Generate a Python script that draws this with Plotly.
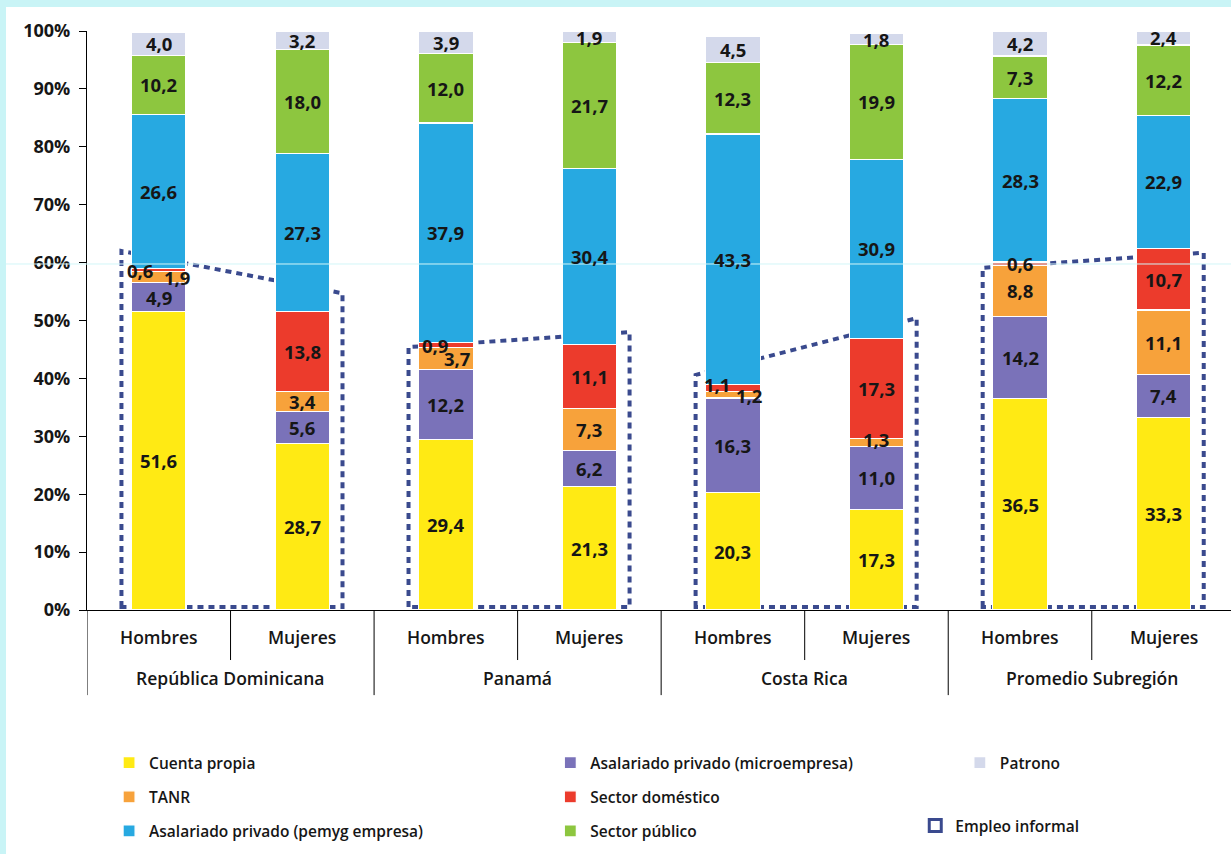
import plotly.graph_objects as go

# ---------------- data ----------------
countries = ["República Dominicana", "Panamá", "Costa Rica", "Promedio Subregión"]
sexes = ["Hombres", "Mujeres"]

series_names = ["Cuenta propia", "Asalariado privado (microempresa)", "TANR", "Sector doméstico",
                "Asalariado privado (pemyg empresa)", "Sector público", "Patrono"]

# bar order: RD-H, RD-M, PA-H, PA-M, CR-H, CR-M, PS-H, PS-M
cuenta_propia = [51.6, 28.7, 29.4, 21.3, 20.3, 17.3, 36.5, 33.3]
asal_micro = [4.9, 5.6, 12.2, 6.2, 16.3, 11.0, 14.2, 7.4]
tanr = [1.9, 3.4, 3.7, 7.3, 1.2, 1.3, 8.8, 11.1]
sector_domestico = [0.6, 13.8, 0.9, 11.1, 1.1, 17.3, 0.6, 10.7]
asal_pemyg = [26.6, 27.3, 37.9, 30.4, 43.3, 30.9, 28.3, 22.9]
sector_publico = [10.2, 18.0, 12.0, 21.7, 12.3, 19.9, 7.3, 12.2]
patrono = [4.0, 3.2, 3.9, 1.9, 4.5, 1.8, 4.2, 2.4]

# hand-drawn "Empleo informal" bracket heights (%), Hombres side and Mujeres side, per country
informal_top_h = [62.0, 45.4, 40.6, 59.1]
informal_top_m = [54.7, 48.0, 50.4, 61.7]

y_tick_vals = [0, 10, 20, 30, 40, 50, 60, 70, 80, 90, 100]
y_tick_text = ["0%", "10%", "20%", "30%", "40%", "50%", "60%", "70%", "80%", "90%", "100%"]

# ---------------- style ----------------
FONT = "Open Sans, Liberation Sans, Arial, sans-serif"
TXT = "#161616"
colors = ["#FFEA14", "#7A72B9", "#F7A23B", "#EC3B2C", "#27A9E1", "#8DC63F", "#D4D9EB"]
legend_of = ["legend", "legend2", "legend", "legend2", "legend", "legend2", "legend3"]
BOX_COLOR = "#3A4A8E"
CYAN = "#C9F4F6"

series_values = [cuenta_propia, asal_micro, tanr, sector_domestico, asal_pemyg, sector_publico, patrono]
n_bars = len(cuenta_propia)
x_pos = list(range(n_bars))

fig = go.Figure()
for name, vals, col, lg in zip(series_names, series_values, colors, legend_of):
    fig.add_trace(go.Bar(
        x=x_pos, y=vals, name=name, legend=lg, legendgroup=name,
        marker=dict(color=col, line=dict(color="white", width=1.2)),
        width=0.38, hoverinfo="skip",
    ))

# segment labels
label_shift = {
    (0, 3): (-19, 0), (0, 2): (18, 0),
    (2, 3): (-11, 0), (2, 2): (11, 0),
    (4, 3): (-16, 3), (4, 2): (16, -1),
    (5, 2): (0, 3),
}
annotations = []
for b in range(n_bars):
    base = 0.0
    for s, vals in enumerate(series_values):
        v = vals[b]
        xs, ys = label_shift.get((b, s), (0, 0))
        annotations.append(dict(
            x=x_pos[b], y=base + v / 2, xref="x", yref="y",
            text=f"{v:.1f}".replace(".", ","), showarrow=False,
            xshift=xs, yshift=ys,
            font=dict(family=FONT, size=18.5, color=TXT, weight="bold"),
        ))
        base += v

# category labels
for b in range(n_bars):
    annotations.append(dict(
        x=x_pos[b], y=-0.0466, xref="x", yref="paper", text=sexes[b % 2],
        showarrow=False, yanchor="middle",
        font=dict(family=FONT, size=17.5, color=TXT, weight=600),
    ))
for c, cname in enumerate(countries):
    annotations.append(dict(
        x=2 * c + 0.5, y=-0.1174, xref="x", yref="paper", text=cname,
        showarrow=False, yanchor="middle",
        font=dict(family=FONT, size=17.5, color=TXT, weight=600),
    ))

shapes = []
# background strips of the source image
shapes.append(dict(type="rect", xref="paper", yref="paper", x0=-0.08, x1=1.01, y0=1.0415, y1=1.07,
                   fillcolor=CYAN, line=dict(width=0), layer="above"))
shapes.append(dict(type="rect", xref="paper", yref="paper", x0=-0.08, x1=-0.0708, y0=-0.43, y1=1.07,
                   fillcolor=CYAN, line=dict(width=0), layer="above"))
shapes.append(dict(type="line", xref="paper", yref="paper", x0=-0.0708, x1=1.01, y0=0.5976, y1=0.5976,
                   line=dict(color="#D2F6F8", width=1), layer="above"))

# informal employment brackets
box_line = dict(color=BOX_COLOR, width=4, dash="6px,5px")
for c in range(len(countries)):
    xl = x_pos[2 * c] - 0.26
    xr = x_pos[2 * c + 1] + 0.28
    yb = 0.5
    path = f"M{xl},{yb} L{xl},{informal_top_h[c]} L{xr},{informal_top_m[c]} L{xr},{yb} Z"
    shapes.append(dict(
        type="path", path=path, xref="x", yref="y", layer="below",
        line=box_line, fillcolor="rgba(0,0,0,0)",
    ))
# legend entry for the brackets (rect glyph), kept outside the visible canvas
shapes.append(dict(
    type="rect", xref="paper", yref="paper", x0=1.3, x1=1.32, y0=-0.3, y1=-0.28,
    line=dict(color=BOX_COLOR, width=3, dash="4px,3px"), fillcolor="rgba(0,0,0,0)",
    showlegend=True, name="Empleo informal", legend="legend4",
))

# separators below the axis
for c in range(len(countries)):
    shapes.append(dict(type="line", xref="x", yref="paper", x0=2 * c + 0.5, x1=2 * c + 0.5,
                       y0=0, y1=-0.0864, line=dict(color="black", width=1)))
    shapes.append(dict(type="line", xref="x", yref="paper", x0=2 * c - 0.5, x1=2 * c - 0.5,
                       y0=0, y1=-0.147, line=dict(color="black", width=1)))

legend_common = dict(
    bgcolor="rgba(0,0,0,0)", orientation="v", xanchor="left", yanchor="top",
    traceorder="grouped", tracegroupgap=11,
    font=dict(family=FONT, size=15.5, color=TXT, weight=600),
)

fig.update_layout(
    width=1231, height=854,
    margin=dict(l=87, r=0, t=31, b=244),
    paper_bgcolor="white", plot_bgcolor="white",
    barmode="stack", bargap=0.62,
    font=dict(family=FONT, color=TXT),
    xaxis=dict(range=[-0.5, 7.47], showticklabels=False, showgrid=False, zeroline=False,
               showline=True, linecolor="black", linewidth=1.3, ticks="", fixedrange=True),
    yaxis=dict(range=[0, 100], tickvals=y_tick_vals, ticktext=y_tick_text, ticks="outside",
               ticklen=7, tickcolor="black", showline=True, linecolor="black", linewidth=1.3,
               showgrid=False, zeroline=False, ticklabelstandoff=5,
               tickfont=dict(family=FONT, size=18, color=TXT, weight="bold")),
    annotations=annotations,
    shapes=shapes,
    legend=dict(x=0.0193, y=-0.235, **legend_common),
    legend2=dict(x=0.405, y=-0.235, **legend_common),
    legend3=dict(x=0.763, y=-0.235, **legend_common),
    legend4=dict(x=0.724, y=-0.3436, **legend_common),
)

fig.write_html("out.html", config={"displayModeBar": False},
               post_script="document.body.style.margin='0';")
